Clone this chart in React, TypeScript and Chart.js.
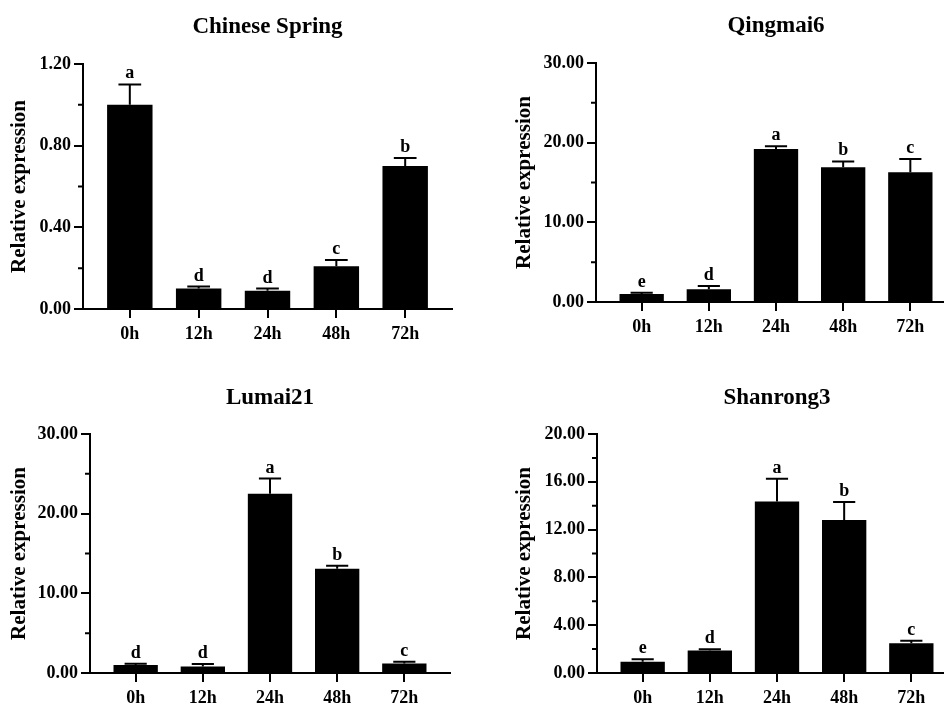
import React, { useEffect, useRef } from 'react';
import { Chart, registerables } from 'chart.js';

Chart.register(...registerables);

const categories = ['0h', '12h', '24h', '48h', '72h'];

const csTitle = 'Chinese Spring';
const csValues = [1.0, 0.1, 0.09, 0.21, 0.7];
const csErrors = [0.1, 0.01, 0.01, 0.03, 0.04];
const csLetters = ['a', 'd', 'd', 'c', 'b'];
const csAxis = [0, 1.2, 0.4, 0.2]; // min, max, major step, minor step

const qmTitle = 'Qingmai6';
const qmValues = [1.0, 1.6, 19.2, 16.9, 16.3];
const qmErrors = [0.15, 0.4, 0.35, 0.75, 1.65];
const qmLetters = ['e', 'd', 'a', 'b', 'c'];
const qmAxis = [0, 30, 10, 5];

const lmTitle = 'Lumai21';
const lmValues = [1.0, 0.83, 22.5, 13.1, 1.2];
const lmErrors = [0.15, 0.3, 1.9, 0.35, 0.2];
const lmLetters = ['d', 'd', 'a', 'b', 'c'];
const lmAxis = [0, 30, 10, 5];

const srTitle = 'Shanrong3';
const srValues = [0.95, 1.89, 14.35, 12.8, 2.48];
const srErrors = [0.2, 0.1, 1.9, 1.5, 0.22];
const srLetters = ['e', 'd', 'a', 'b', 'c'];
const srAxis = [0, 20, 4, 2];

const yAxisTitle = 'Relative expression';

const FONT = "'Liberation Serif', 'Times New Roman', serif";

type PanelProps = {
  title: string;
  values: number[];
  errors: number[];
  letters: string[];
  axis: number[];
  left: number;
  top: number;
  width: number;
  height: number;
  yAxisWidth: number;
  xAxisHeight: number;
  padTop: number;
  padRight: number;
  titleBaseline: number;
};

function Panel(p: PanelProps) {
  const ref = useRef<HTMLCanvasElement | null>(null);

  useEffect(() => {
    if (!ref.current) return;
    const [yMin, yMax, major, minor] = p.axis;

    const extras = {
      id: 'extras',
      afterDatasetsDraw(chart: any) {
        const ctx = chart.ctx;
        const ys = chart.scales.y;
        const meta = chart.getDatasetMeta(0);
        ctx.save();
        ctx.strokeStyle = '#000';
        ctx.fillStyle = '#000';
        ctx.lineWidth = 2;
        meta.data.forEach((el: any, i: number) => {
          const x = el.x;
          const yTop = el.y;
          const yErr = ys.getPixelForValue(p.values[i] + p.errors[i]);
          const half = el.width * 0.25;
          ctx.beginPath();
          ctx.moveTo(x, yTop);
          ctx.lineTo(x, yErr);
          ctx.moveTo(x - half, yErr);
          ctx.lineTo(x + half, yErr);
          ctx.stroke();
          ctx.font = `bold 18px ${FONT}`;
          ctx.textAlign = 'center';
          ctx.textBaseline = 'alphabetic';
          ctx.fillText(p.letters[i], x, yErr - 6);
        });
        // minor ticks
        const ax = chart.chartArea.left;
        ctx.beginPath();
        for (let k = 0; ; k++) {
          const v = yMin + (2 * k + 1) * minor;
          if (v >= yMax - 1e-9) break;
          const py = ys.getPixelForValue(v);
          ctx.moveTo(ax - 5, py);
          ctx.lineTo(ax, py);
        }
        ctx.stroke();
        // title
        ctx.font = `bold 23px ${FONT}`;
        ctx.textAlign = 'center';
        ctx.textBaseline = 'alphabetic';
        ctx.fillText(p.title, (chart.chartArea.left + chart.chartArea.right) / 2, p.titleBaseline);
        ctx.restore();
      },
    };

    const chart = new Chart(ref.current, {
      type: 'bar',
      data: {
        datasets: [
          {
            data: categories.map((_, i) => ({ x: i, y: p.values[i] })),
            backgroundColor: '#000',
            borderWidth: 0,
            barPercentage: 0.66,
            categoryPercentage: 1,
          },
        ],
      },
      options: {
        animation: false,
        responsive: false,
        maintainAspectRatio: false,
        layout: { padding: { left: 0, top: p.padTop, right: p.padRight, bottom: 0 } },
        plugins: {
          legend: { display: false },
          tooltip: { enabled: false },
          title: { display: false },
        },
        scales: {
          x: {
            type: 'linear',
            min: -0.68,
            max: 4.68,
            offset: false,
            afterBuildTicks: (scale: any) => {
              scale.ticks = categories.map((_, i) => ({ value: i }));
            },
            afterFit: (scale: any) => {
              scale.height = p.xAxisHeight;
            },
            grid: {
              display: true,
              offset: false,
              drawOnChartArea: false,
              drawTicks: true,
              tickLength: 9,
              color: '#000',
              lineWidth: 2,
            },
            border: { display: true, color: '#000', width: 2 },
            ticks: {
              color: '#000',
              font: { family: FONT, size: 18, weight: 'bold' },
              padding: 6,
              maxRotation: 0,
              autoSkip: false,
              callback: (v: any) => categories[Math.round(Number(v))] ?? '',
            },
          },
          y: {
            type: 'linear',
            min: yMin,
            max: yMax,
            afterFit: (scale: any) => {
              scale.width = p.yAxisWidth;
            },
            grid: {
              display: true,
              drawOnChartArea: false,
              drawTicks: true,
              tickLength: 9,
              color: '#000',
              lineWidth: 2,
            },
            border: { display: true, color: '#000', width: 2 },
            ticks: {
              stepSize: major,
              color: '#000',
              font: { family: FONT, size: 18, weight: 'bold' },
              padding: 3,
              callback: (v: any) => Number(v).toFixed(2),
            },
            title: {
              display: true,
              text: yAxisTitle,
              color: '#000',
              font: { family: FONT, size: 21, weight: 'bold' },
              padding: { top: 7, bottom: 0 },
            },
          },
        },
      },
      plugins: [extras],
    } as any);

    return () => chart.destroy();
  }, []);

  return (
    <canvas
      ref={ref}
      width={p.width}
      height={p.height}
      style={{ position: 'absolute', left: p.left, top: p.top, width: p.width, height: p.height }}
    />
  );
}

export default function App() {
  return (
    <div
      style={{
        position: 'fixed',
        left: 0,
        top: 0,
        width: 944,
        height: 704,
        overflow: 'hidden',
        background: '#fff',
      }}
    >
      <Panel
        title={csTitle}
        values={csValues}
        errors={csErrors}
        letters={csLetters}
        axis={csAxis}
        left={0}
        top={0}
        width={472}
        height={352}
        yAxisWidth={83}
        xAxisHeight={43}
        padTop={64}
        padRight={20}
        titleBaseline={33}
      />
      <Panel
        title={qmTitle}
        values={qmValues}
        errors={qmErrors}
        letters={qmLetters}
        axis={qmAxis}
        left={505}
        top={0}
        width={472}
        height={352}
        yAxisWidth={91}
        xAxisHeight={50}
        padTop={63}
        padRight={21}
        titleBaseline={32}
      />
      <Panel
        title={lmTitle}
        values={lmValues}
        errors={lmErrors}
        letters={lmLetters}
        axis={lmAxis}
        left={0}
        top={352}
        width={472}
        height={352}
        yAxisWidth={90}
        xAxisHeight={31}
        padTop={82}
        padRight={22}
        titleBaseline={52}
      />
      <Panel
        title={srTitle}
        values={srValues}
        errors={srErrors}
        letters={srLetters}
        axis={srAxis}
        left={505}
        top={352}
        width={472}
        height={352}
        yAxisWidth={92}
        xAxisHeight={31}
        padTop={82}
        padRight={20}
        titleBaseline={52}
      />
    </div>
  );
}
